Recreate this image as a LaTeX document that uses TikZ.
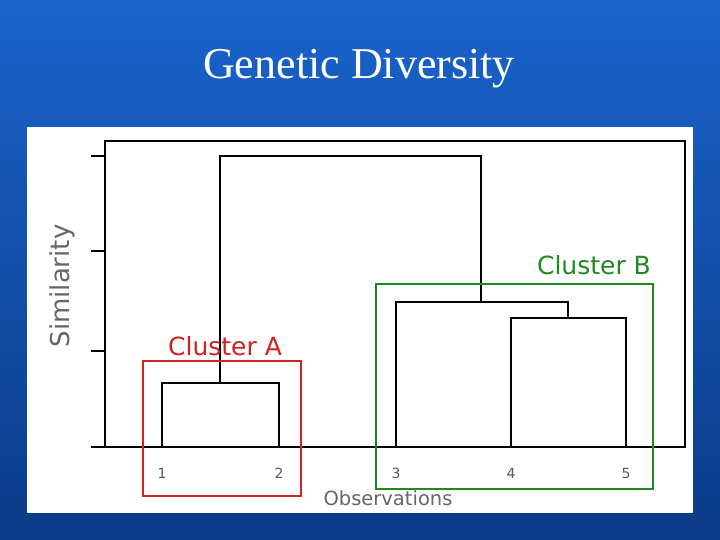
\documentclass[tikz,border=0pt]{standalone}
\usepackage{fontspec}
\setmainfont{Liberation Serif}
\newfontfamily\plotfont{DejaVu Sans}
\usetikzlibrary{positioning}
\definecolor{slideblue}{HTML}{1A64CC}
\definecolor{slidedark}{HTML}{0A3A86}
\definecolor{clusterred}{HTML}{D42020}
\definecolor{clustergreen}{HTML}{1E8A1E}
\begin{document}
\begin{tikzpicture}[x=1pt,y=-1pt,
   leaf/.style={font=\plotfont\fontsize{14}{14}\selectfont,text=gray!70!black},
   link/.style={draw=black,line width=1.6pt},
   clusterbox/.style={line width=1.5pt}]
\useasboundingbox (0,0) rectangle (720,540);
\shade[top color=slideblue,bottom color=slidedark] (0,0) rectangle (720,540);
\node (title) [text=white,font=\fontsize{44}{44}\selectfont] at (359,69) {Genetic Diversity};
\fill[white] (27,127) rectangle (693,513);
% axes
\draw[line width=1.6pt] (105,141) rectangle (685,447);
\foreach \ty in {156,251,351,447}
   \draw[line width=1.6pt] (91,\ty) -- (105,\ty);
\node[rotate=90,font=\plotfont\fontsize{26}{26}\selectfont,text=gray!80!black] (ylab) at (62,286) {Similarity};
\node[font=\plotfont\fontsize{19.5}{19.5}\selectfont,text=gray!80!black] (xlab) at (388,498) {Observations};
% leaves
\foreach \n/\lx in {1/162,2/279,3/396,4/511,5/626} {
   \coordinate (b\n) at (\lx,447);
   \node[leaf] (l\n) at (\lx,473) {\n};
}
% joins
\coordinate (a1) at (162,383); \coordinate (a2) at (279,383);
\coordinate (c4) at (511,318); \coordinate (c5) at (626,318);
\coordinate (c3) at (396,302); \coordinate (c45) at (568,302);
\coordinate (ta) at (220,156); \coordinate (tb) at (481,156);
\draw[link] (b1) -- (a1) -- (a2) -- (b2);
\draw[link] (b4) -- (c4) -- (c5) -- (b5);
\draw[link] (b3) -- (c3) -- (c45) -- (568,318);
\draw[link] (220,383) -- (ta) -- (tb) -- (481,302);
% clusters
\draw[clusterbox,draw=clusterred] (143,361) rectangle (301,496);
\node[font=\plotfont\fontsize{25}{25}\selectfont,text=clusterred] (ca) at (225,346) {Cluster A};
\draw[clusterbox,draw=clustergreen] (376,284) rectangle (653,489);
\node[font=\plotfont\fontsize{25}{25}\selectfont,text=clustergreen] (cb) at (594,265) {Cluster B};
\end{tikzpicture}
\end{document}
